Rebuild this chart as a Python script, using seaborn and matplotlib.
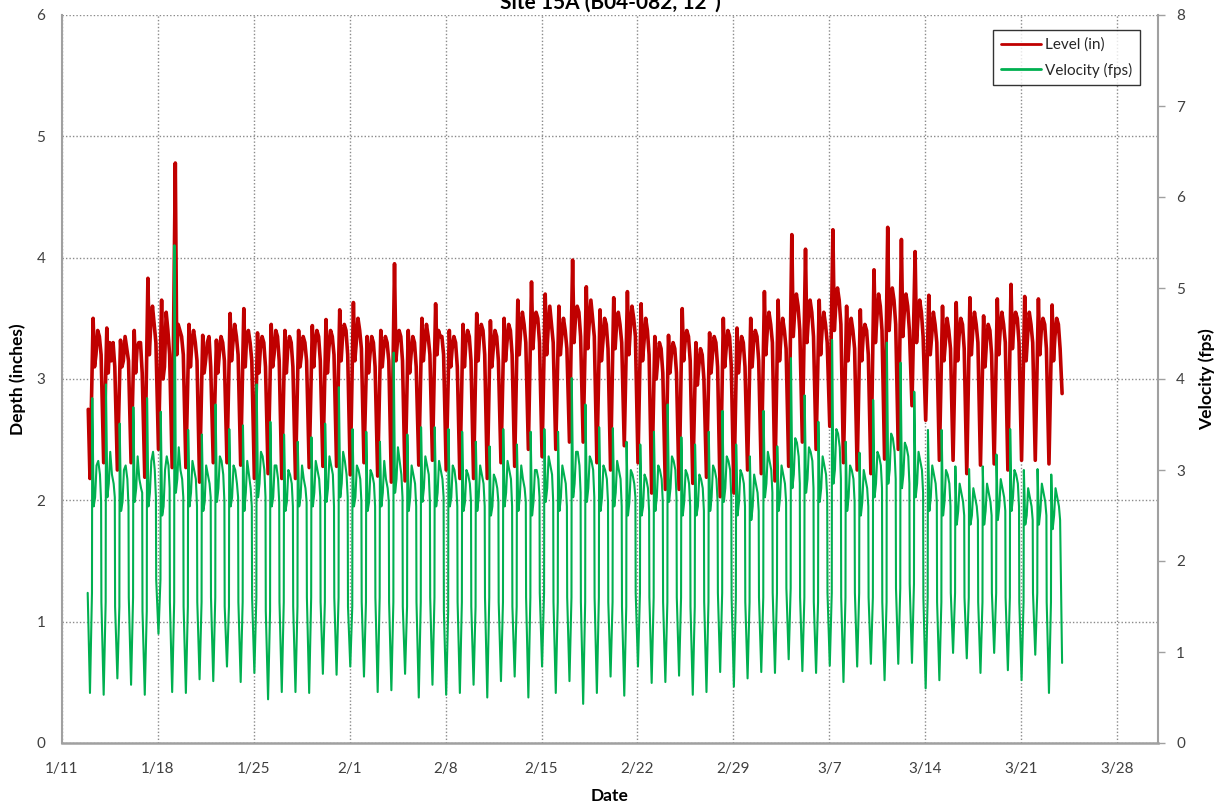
import matplotlib
matplotlib.use("Agg")
import matplotlib.pyplot as plt
from matplotlib.ticker import MultipleLocator
import pandas as pd
import seaborn as sns

# ---- flow-monitor readings (one row per day, 1/13 .. 3/23) ----
first_day = "2016-01-13"

# Level (in): night trough, morning peak, mid-morning dip, late morning,
# afternoon, early evening, evening
lvl_low = [2.18, 2.31, 2.25, 2.31, 2.19, 2.42, 2.27,
           2.27, 2.15, 2.31, 2.31, 2.29, 2.18, 2.22,
           2.18, 2.18, 2.27, 2.28, 2.28, 2.21, 2.31,
           2.20, 2.15, 2.16, 2.29, 2.33, 2.25, 2.18,
           2.18, 2.18, 2.31, 2.28, 2.42, 2.36, 2.42,
           2.48, 2.48, 2.31, 2.25, 2.45, 2.31, 2.06,
           2.09, 2.09, 2.14, 2.19, 2.03, 2.06, 2.25,
           2.22, 2.16, 2.28, 2.48, 2.42, 2.61, 2.31,
           2.25, 2.22, 2.34, 2.42, 2.78, 2.66, 2.33,
           2.33, 2.22, 2.29, 2.30, 2.25, 2.33, 2.33,
           2.30]
lvl_peak = [3.50, 3.42, 3.32, 3.40, 3.83, 3.65, 4.78,
            3.45, 3.36, 3.32, 3.54, 3.58, 3.38, 3.45,
            3.40, 3.40, 3.44, 3.49, 3.57, 3.63, 3.35,
            3.40, 3.95, 3.40, 3.50, 3.62, 3.40, 3.45,
            3.54, 3.48, 3.50, 3.65, 3.80, 3.70, 3.60,
            3.98, 3.76, 3.57, 3.67, 3.72, 3.62, 3.35,
            3.36, 3.58, 3.30, 3.38, 3.50, 3.42, 3.50,
            3.72, 3.65, 4.19, 4.07, 3.65, 4.23, 3.60,
            3.57, 3.90, 4.25, 4.15, 4.05, 3.69, 3.60,
            3.63, 3.67, 3.52, 3.66, 3.78, 3.68, 3.66,
            3.61]
lvl_dip = [3.10, 3.05, 3.10, 3.05, 3.20, 3.00, 3.20,
           3.10, 3.05, 3.05, 3.15, 3.10, 3.05, 3.10,
           3.05, 3.10, 3.10, 3.05, 3.15, 3.15, 3.05,
           3.10, 3.15, 3.05, 3.15, 3.20, 3.10, 3.10,
           3.15, 3.10, 3.15, 3.20, 3.25, 3.20, 3.20,
           3.30, 3.25, 3.15, 3.25, 3.20, 3.15, 3.00,
           3.05, 3.15, 2.95, 3.05, 3.10, 3.05, 3.10,
           3.20, 3.15, 3.35, 3.30, 3.20, 3.40, 3.15,
           3.15, 3.30, 3.40, 3.35, 3.30, 3.20, 3.15,
           3.15, 3.20, 3.10, 3.20, 3.25, 3.15, 3.20,
           3.15]
lvl_noon = [3.20, 3.30, 3.15, 3.25, 3.45, 3.10, 3.45,
            3.30, 3.15, 3.20, 3.30, 3.35, 3.25, 3.20,
            3.25, 3.20, 3.30, 3.25, 3.35, 3.30, 3.20,
            3.25, 3.30, 3.20, 3.30, 3.40, 3.25, 3.30,
            3.35, 3.25, 3.30, 3.40, 3.45, 3.40, 3.35,
            3.50, 3.45, 3.30, 3.45, 3.40, 3.30, 3.15,
            3.20, 3.30, 3.10, 3.20, 3.25, 3.20, 3.30,
            3.40, 3.35, 3.55, 3.50, 3.40, 3.60, 3.35,
            3.35, 3.50, 3.60, 3.55, 3.50, 3.35, 3.30,
            3.35, 3.40, 3.30, 3.40, 3.45, 3.35, 3.40,
            3.35]
lvl_aft = [3.40, 3.15, 3.35, 3.30, 3.60, 3.55, 3.40,
           3.40, 3.30, 3.35, 3.45, 3.40, 3.35, 3.40,
           3.35, 3.35, 3.40, 3.40, 3.45, 3.50, 3.35,
           3.35, 3.40, 3.35, 3.45, 3.35, 3.35, 3.40,
           3.45, 3.40, 3.45, 3.55, 3.55, 3.60, 3.50,
           3.60, 3.65, 3.50, 3.55, 3.60, 3.50, 3.30,
           3.30, 3.40, 3.25, 3.35, 3.40, 3.35, 3.40,
           3.55, 3.50, 3.70, 3.65, 3.55, 3.75, 3.50,
           3.45, 3.70, 3.75, 3.70, 3.65, 3.55, 3.50,
           3.50, 3.55, 3.45, 3.55, 3.55, 3.55, 3.50,
           3.50]
lvl_late = [3.35, 3.30, 3.25, 3.30, 3.45, 3.40, 3.35,
            3.30, 3.35, 3.30, 3.35, 3.30, 3.30, 3.35,
            3.30, 3.30, 3.35, 3.35, 3.40, 3.40, 3.30,
            3.30, 3.35, 3.30, 3.35, 3.35, 3.30, 3.35,
            3.40, 3.35, 3.40, 3.45, 3.50, 3.45, 3.40,
            3.55, 3.50, 3.45, 3.45, 3.50, 3.40, 3.25,
            3.25, 3.35, 3.20, 3.30, 3.35, 3.30, 3.35,
            3.45, 3.40, 3.60, 3.55, 3.45, 3.65, 3.40,
            3.40, 3.60, 3.65, 3.60, 3.55, 3.45, 3.40,
            3.45, 3.45, 3.40, 3.45, 3.50, 3.45, 3.45,
            3.45]
lvl_eve = [3.20, 3.10, 3.15, 3.05, 3.30, 3.20, 3.20,
           3.15, 3.10, 3.15, 3.20, 3.15, 3.10, 3.15,
           3.10, 3.15, 3.15, 3.20, 3.20, 3.25, 3.10,
           3.15, 3.15, 3.10, 3.20, 3.20, 3.10, 3.15,
           3.20, 3.15, 3.20, 3.30, 3.30, 3.30, 3.25,
           3.35, 3.35, 3.25, 3.30, 3.35, 3.20, 3.05,
           3.05, 3.15, 3.00, 3.10, 3.10, 3.10, 3.15,
           3.30, 3.25, 3.40, 3.35, 3.30, 3.45, 3.25,
           3.20, 3.40, 3.45, 3.40, 3.35, 3.30, 3.25,
           3.25, 3.30, 3.20, 3.30, 3.30, 3.30, 3.25,
           3.25]

# Velocity (fps): low-flow shoulder, night trough, morning peak, early dip,
# mid-morning, noon, afternoon, early evening, evening
vel_sh = [1.65, 1.55, 1.50, 1.60, 1.45, 1.80, 1.55,
          1.50, 1.55, 1.60, 1.50, 1.55, 1.60, 1.45,
          1.55, 1.50, 1.60, 1.55, 1.60, 1.50, 1.55,
          1.60, 1.55, 1.50, 1.55, 1.60, 1.45, 1.55,
          1.50, 1.60, 1.55, 1.50, 1.60, 1.65, 1.55,
          1.60, 1.55, 1.60, 1.55, 1.50, 1.65, 1.60,
          1.55, 1.60, 1.50, 1.55, 1.65, 1.60, 1.55,
          1.60, 1.65, 1.70, 1.60, 1.55, 1.65, 1.60,
          1.65, 1.60, 1.55, 1.70, 1.75, 1.60, 1.55,
          1.65, 1.60, 1.55, 1.65, 1.60, 1.55, 1.65,
          1.55]
vel_low = [0.55, 0.53, 0.71, 0.64, 0.53, 1.20, 0.56,
           0.55, 0.70, 0.68, 0.84, 0.67, 0.77, 0.48,
           0.56, 0.56, 0.55, 0.76, 0.75, 0.84, 0.73,
           0.56, 0.58, 0.76, 0.50, 0.64, 0.53, 0.55,
           0.64, 0.50, 0.68, 0.73, 0.50, 0.84, 0.55,
           0.68, 0.43, 0.55, 0.73, 0.52, 0.84, 0.66,
           0.67, 0.74, 0.53, 0.56, 0.78, 0.62, 0.71,
           0.78, 0.77, 0.92, 0.79, 0.77, 0.85, 0.67,
           0.84, 0.87, 0.69, 0.87, 0.88, 0.60, 0.69,
           0.99, 0.93, 0.77, 0.99, 0.80, 0.69, 0.97,
           0.55]
vel_peak = [3.79, 3.94, 3.51, 3.69, 3.79, 3.64, 5.47,
            3.44, 3.39, 3.72, 3.45, 3.49, 3.94, 3.53,
            3.39, 3.31, 3.36, 3.51, 3.91, 3.45, 3.42,
            3.31, 4.29, 3.39, 3.47, 3.47, 3.45, 3.42,
            3.31, 3.26, 3.45, 3.28, 3.42, 3.45, 3.42,
            4.01, 3.72, 3.47, 3.46, 3.31, 3.28, 3.42,
            3.72, 3.36, 3.28, 3.42, 3.65, 3.28, 3.15,
            3.65, 3.26, 4.23, 3.82, 3.53, 4.43, 3.31,
            3.19, 3.77, 4.40, 4.18, 3.86, 3.44, 3.44,
            3.04, 3.01, 3.04, 3.17, 3.45, 3.00, 3.01,
            2.95]
vel_dip = [2.60, 2.70, 2.55, 2.65, 2.60, 2.50, 2.75,
           2.60, 2.55, 2.65, 2.60, 2.55, 2.70, 2.60,
           2.55, 2.60, 2.60, 2.65, 2.70, 2.60, 2.55,
           2.60, 2.75, 2.55, 2.65, 2.60, 2.60, 2.55,
           2.55, 2.50, 2.60, 2.55, 2.50, 2.65, 2.55,
           2.70, 2.65, 2.55, 2.60, 2.50, 2.50, 2.55,
           2.65, 2.50, 2.50, 2.55, 2.65, 2.50, 2.45,
           2.70, 2.55, 2.80, 2.75, 2.65, 2.85, 2.55,
           2.50, 2.70, 2.85, 2.80, 2.70, 2.55, 2.50,
           2.40, 2.40, 2.40, 2.45, 2.55, 2.40, 2.40,
           2.35]
vel_noon = [2.70, 2.85, 2.65, 2.80, 2.75, 2.60, 2.90,
            2.75, 2.65, 2.80, 2.70, 2.75, 2.85, 2.70,
            2.65, 2.70, 2.75, 2.80, 2.85, 2.70, 2.65,
            2.75, 2.90, 2.70, 2.80, 2.75, 2.70, 2.65,
            2.70, 2.60, 2.75, 2.70, 2.65, 2.80, 2.70,
            2.85, 2.80, 2.70, 2.75, 2.65, 2.60, 2.70,
            2.80, 2.65, 2.60, 2.70, 2.80, 2.65, 2.60,
            2.85, 2.70, 2.95, 2.90, 2.80, 3.00, 2.70,
            2.65, 2.85, 3.00, 2.95, 2.85, 2.70, 2.65,
            2.55, 2.50, 2.55, 2.60, 2.70, 2.50, 2.55,
            2.50]
vel_mid = [3.05, 3.20, 3.00, 3.15, 3.10, 3.00, 3.25,
           3.10, 3.05, 3.15, 3.05, 3.10, 3.20, 3.05,
           3.00, 3.05, 3.10, 3.15, 3.20, 3.05, 3.00,
           3.10, 3.25, 3.05, 3.15, 3.10, 3.05, 3.00,
           3.05, 2.95, 3.10, 3.05, 3.00, 3.15, 3.05,
           3.20, 3.15, 3.05, 3.10, 3.00, 2.95, 3.05,
           3.15, 3.00, 2.95, 3.05, 3.15, 3.00, 2.95,
           3.20, 3.05, 3.35, 3.25, 3.15, 3.45, 3.05,
           3.00, 3.20, 3.40, 3.30, 3.20, 3.05, 3.00,
           2.85, 2.80, 2.85, 2.90, 3.00, 2.80, 2.85,
           2.80]
vel_aft = [3.10, 2.95, 3.05, 2.90, 3.20, 3.15, 3.00,
           3.00, 2.95, 3.10, 3.00, 2.95, 3.15, 3.05,
           2.95, 2.90, 3.00, 3.05, 3.10, 3.00, 2.95,
           2.90, 3.10, 2.95, 3.05, 3.00, 3.00, 2.95,
           2.95, 2.90, 3.00, 2.90, 3.00, 3.05, 2.95,
           3.20, 3.10, 3.00, 3.00, 2.95, 2.90, 3.00,
           3.10, 2.95, 2.90, 3.00, 3.10, 2.95, 2.85,
           3.10, 2.95, 3.30, 3.20, 3.05, 3.40, 3.00,
           2.90, 3.15, 3.35, 3.25, 3.10, 2.95, 2.95,
           2.75, 2.70, 2.75, 2.80, 2.95, 2.70, 2.75,
           2.70]
vel_late = [2.95, 2.85, 2.90, 2.80, 3.00, 3.05, 2.90,
            2.90, 2.85, 2.95, 2.85, 2.80, 3.00, 2.90,
            2.85, 2.80, 2.90, 2.95, 2.95, 2.90, 2.85,
            2.80, 2.95, 2.85, 2.95, 2.90, 2.85, 2.85,
            2.85, 2.80, 2.90, 2.80, 2.90, 2.95, 2.85,
            3.05, 3.00, 2.90, 2.90, 2.85, 2.80, 2.90,
            3.00, 2.85, 2.80, 2.90, 3.00, 2.85, 2.75,
            3.00, 2.85, 3.15, 3.10, 2.95, 3.25, 2.90,
            2.80, 3.05, 3.20, 3.15, 3.00, 2.85, 2.85,
            2.65, 2.60, 2.65, 2.70, 2.85, 2.60, 2.65,
            2.60]
vel_eve = [2.65, 2.70, 2.60, 2.75, 2.70, 2.80, 2.70,
           2.60, 2.70, 2.65, 2.70, 2.60, 2.70, 2.65,
           2.60, 2.65, 2.70, 2.60, 2.70, 2.65, 2.60,
           2.65, 2.70, 2.60, 2.65, 2.70, 2.60, 2.65,
           2.60, 2.65, 2.60, 2.65, 2.70, 2.65, 2.60,
           2.75, 2.70, 2.65, 2.60, 2.70, 2.55, 2.65,
           2.70, 2.60, 2.55, 2.65, 2.70, 2.60, 2.55,
           2.75, 2.65, 2.85, 2.80, 2.70, 2.90, 2.65,
           2.60, 2.80, 2.90, 2.85, 2.75, 2.65, 2.60,
           2.50, 2.45, 2.50, 2.55, 2.60, 2.45, 2.50,
           2.45]

# first and last logged readings
start_time, lvl_start = "2016-01-12 22:00", 2.75
end_time, lvl_end, vel_end = "2016-03-24 00:00", 2.88, 0.88

# x-axis ticks
tick_dates = ["1/11", "1/18", "1/25", "2/1", "2/8", "2/15", "2/22",
              "2/29", "3/7", "3/14", "3/21", "3/28"]

RED = "#C00000"
GREEN = "#00B050"

# ---- assemble the logged time series (reading hour of day -> column) ----
days = pd.date_range(first_day, periods=len(lvl_low), freq="D")

lvl_sched = [(1.0, lvl_low), (6.5, lvl_peak), (9.0, lvl_dip), (11.5, lvl_noon),
             (14.5, lvl_aft), (17.5, lvl_late), (20.5, lvl_eve)]
lvl_t, lvl_v = [pd.Timestamp(start_time)], [lvl_start]
for i, d in enumerate(days):
    for h, col in lvl_sched:
        lvl_t.append(d + pd.Timedelta(hours=h))
        lvl_v.append(col[i])
lvl_t.append(pd.Timestamp(end_time))
lvl_v.append(lvl_end)
level_df = pd.DataFrame({"time": lvl_t, "level": lvl_v})

vel_sched = [(-3.0, vel_sh), (1.0, vel_low), (4.5, vel_sh), (5.0, vel_peak),
             (7.5, vel_dip), (10.0, vel_noon), (12.5, vel_mid), (15.5, vel_aft),
             (18.5, vel_late), (20.5, vel_eve)]
vel_t, vel_v = [], []
for i, d in enumerate(days):
    for h, col in vel_sched:
        vel_t.append(d + pd.Timedelta(hours=h))
        vel_v.append(col[i])
vel_t.append(pd.Timestamp(end_time))
vel_v.append(vel_end)
vel_df = pd.DataFrame({"time": vel_t, "velocity": vel_v})

# ---- figure ----
sns.set_theme(style="white")
plt.rcParams["font.family"] = ["Lato", "DejaVu Sans"]

fig = plt.figure(figsize=(12.25, 8.11), dpi=100)
ax = fig.add_axes([62 / 1225, 1 - 743 / 811, 1096 / 1225, 728 / 811])
ax2 = ax.twinx()

sns.lineplot(data=level_df, x="time", y="level", ax=ax, color=RED,
             linewidth=2.6, estimator=None, legend=False)
sns.lineplot(data=vel_df, x="time", y="velocity", ax=ax2, color=GREEN,
             linewidth=1.5, estimator=None, legend=False)

x0 = pd.Timestamp("2016-01-11")
ax.set_xlim(x0, pd.Timestamp("2016-03-31"))
ax.set_ylim(0, 6)
ax2.set_ylim(0, 8)

ticks = [x0 + pd.Timedelta(days=7 * i) for i in range(len(tick_dates))]
ax.set_xticks(ticks)
ax.set_xticklabels(tick_dates)
ax.yaxis.set_major_locator(MultipleLocator(1))
ax2.yaxis.set_major_locator(MultipleLocator(1))

grid_kw = dict(color="#8a8a8a", linestyle=(0, (1, 1.5)), linewidth=1.0)
ax.grid(True, axis="both", **grid_kw)
ax2.grid(False)
ax.set_axisbelow(True)

for a in (ax, ax2):
    for s in a.spines.values():
        s.set_visible(False)
ax.spines["left"].set_visible(True)
ax.spines["left"].set_color("#a0a0a0")
ax.spines["left"].set_linewidth(1.5)
ax.spines["bottom"].set_visible(True)
ax.spines["bottom"].set_color("#a0a0a0")
ax.spines["bottom"].set_linewidth(1.8)
ax2.spines["right"].set_visible(True)
ax2.spines["right"].set_color("#a0a0a0")
ax2.spines["right"].set_linewidth(1.5)

lab_col = "#404040"
ax.tick_params(axis="x", length=0, pad=14, labelsize=11, labelcolor=lab_col)
ax.tick_params(axis="y", length=0, pad=12, labelsize=11, labelcolor=lab_col)
ax2.tick_params(axis="y", length=5, width=1, color="#a0a0a0", direction="out",
                pad=8, labelsize=11, labelcolor=lab_col)

ax.set_xlabel("Date", fontsize=12.5, fontweight="bold", color="black")
ax.set_ylabel("Depth (inches)", fontsize=12.5, fontweight="bold", color="black")
ax2.set_ylabel("Velocity (fps)", fontsize=12.5, fontweight="bold", color="black")
ax.xaxis.set_label_coords(0.5, -0.062)
ax.yaxis.set_label_coords(-0.033, 0.5)
ax2.yaxis.set_label_coords(1.037, 0.5)

# chart title sits at the very top edge of the canvas
fig.text(610 / 1225, 1 - 9 / 811, 'Site 15A (B04-082, 12")', ha="center",
         va="baseline", fontsize=15, fontweight="bold", color="black")

handles = ax.get_lines()[:1] + ax2.get_lines()[:1]
leg = ax2.legend(handles, ["Level (in)", "Velocity (fps)"],
                 loc="upper right", bbox_to_anchor=(0.9836, 0.9794),
                 borderaxespad=0, frameon=True, fancybox=False,
                 edgecolor="black", fontsize=11, handlelength=2.6,
                 handletextpad=0.3, labelspacing=0.7, borderpad=0.5)
leg.get_frame().set_linewidth(1.0)
for h in leg.get_lines():
    h.set_linewidth(2.0)

fig.savefig("out.png", dpi=100, facecolor="white")
